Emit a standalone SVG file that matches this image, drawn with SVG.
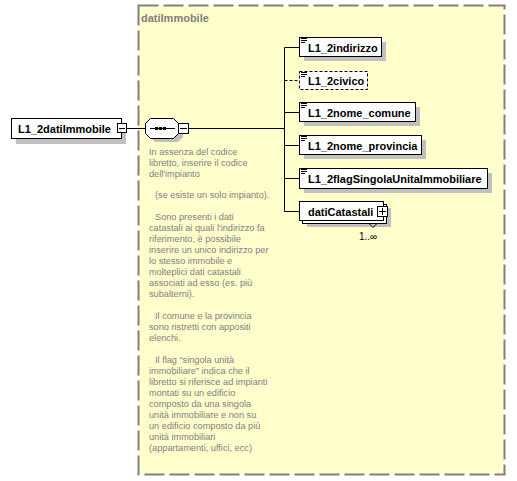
<svg xmlns="http://www.w3.org/2000/svg" width="517" height="481" viewBox="0 0 517 481">
<style>
.lbl{font-family:"Liberation Sans",Arial,sans-serif;font-weight:bold;font-size:11px;fill:#000}
.ann{font-family:"Liberation Sans",Arial,sans-serif;font-size:9.2px;fill:#808080}
.box{fill:#fff;stroke:#000;stroke-width:1}
.shd{fill:#c0c0c0}
.con{stroke:#000;stroke-width:1;fill:none}
.ico{stroke:#000;stroke-width:1}
</style>
<defs>
<g id="icon"><path class="ico" d="M0,0.5H6M0,2.5H6M0,4.5H4"/></g>
</defs>
<rect x="138.5" y="5.5" width="366" height="469" fill="#ffffcc" stroke="#808080" stroke-width="2" stroke-dasharray="20 5"/>
<text x="141" y="22" style="font-family:'Liberation Sans',Arial,sans-serif;font-weight:bold;font-size:11px;fill:#808080">datiImmobile</text>
<g id="connectors">
<path class="con" d="M127,128.5H145M189,128.5H284.5M284.5,47.5V211.5M284.5,47.5H299M284.5,112.5H299M284.5,145.5H299M284.5,178.5H299M284.5,211.5H299"/>
<path class="con" d="M284.5,80.5H299" stroke-dasharray="3 2"/>
</g>
<g id="L1_2datiImmobile">
<rect class="shd" x="16" y="123" width="110" height="21"/>
<rect class="box" x="11.5" y="118.5" width="110" height="20"/>
<text class="lbl" x="18" y="132.5">L1_2datiImmobile</text>
<rect class="box" x="117.5" y="123.5" width="9" height="9"/>
<path class="con" d="M119,128.5H125"/>
</g>
<g id="sequence">
<polygon class="shd" points="155,123 178,123 183,128 183,137 178,142 155,142 150,137 150,128"/>
<polygon class="box" points="150.5,118.5 173.5,118.5 178.5,123.5 178.5,133.5 173.5,138.5 150.5,138.5 145.5,133.5 145.5,123.5"/>
<path class="con" d="M150,128.5H175"/>
<rect x="155" y="127" width="3" height="3" fill="#000"/>
<rect x="159" y="127" width="3" height="3" fill="#000"/>
<rect x="163" y="127" width="3" height="3" fill="#000"/>
<rect class="box" x="178.5" y="123.5" width="10" height="10"/>
<path class="con" d="M180,128.5H187"/>
</g>
<g id="annotation">
<text class="ann" x="149"><tspan x="149" y="155">In assenza del codice</tspan><tspan x="149" y="166">libretto, inserire il codice</tspan><tspan x="149" y="177">dell'impianto</tspan><tspan x="155" y="198">(se esiste un solo impianto).</tspan><tspan x="155" y="220">Sono presenti i dati</tspan><tspan x="149" y="231">catastali ai quali l'indirizzo fa</tspan><tspan x="149" y="242">riferimento, è possibile</tspan><tspan x="149" y="253">inserire un unico indirizzo per</tspan><tspan x="149" y="264">lo stesso immobile e</tspan><tspan x="149" y="275">molteplici dati catastali</tspan><tspan x="149" y="286">associati ad esso (es. più</tspan><tspan x="149" y="297">subalterni).</tspan><tspan x="155" y="319">Il comune e la provincia</tspan><tspan x="149" y="330">sono ristretti con appositi</tspan><tspan x="149" y="341">elenchi.</tspan><tspan x="155" y="363">Il flag “singola unità</tspan><tspan x="149" y="374">immobiliare” indica che il</tspan><tspan x="149" y="385">libretto si riferisce ad impianti</tspan><tspan x="149" y="396">montati su un edificio</tspan><tspan x="149" y="407">composto da una singola</tspan><tspan x="149" y="418">unità immobiliare e non su</tspan><tspan x="149" y="429">un edificio composto da più</tspan><tspan x="149" y="440">unità immobiliari</tspan><tspan x="149" y="451">(appartamenti, uffici, ecc)</tspan></text>
</g>
<g id="L1_2indirizzo">
<rect class="shd" x="304" y="42" width="82" height="19"/>
<rect class="box" x="299.5" y="37.5" width="82" height="19"/>
<use href="#icon" x="301" y="38"/>
<text class="lbl" x="308" y="51.5">L1_2indirizzo</text>
</g>
<g id="L1_2civico">
<rect class="box" x="299.5" y="71.5" width="68" height="18" stroke-dasharray="3 2"/>
<use href="#icon" x="301" y="72"/>
<text class="lbl" x="308" y="85">L1_2civico</text>
</g>
<g id="L1_2nome_comune">
<rect class="shd" x="304" y="107" width="116" height="19"/>
<rect class="box" x="299.5" y="102.5" width="116" height="19"/>
<use href="#icon" x="301" y="103"/>
<text class="lbl" x="308" y="116.5">L1_2nome_comune</text>
</g>
<g id="L1_2nome_provincia">
<rect class="shd" x="304" y="140" width="122" height="19"/>
<rect class="box" x="299.5" y="135.5" width="122" height="19"/>
<use href="#icon" x="301" y="136"/>
<text class="lbl" x="308" y="149.5">L1_2nome_provincia</text>
</g>
<g id="L1_2flagSingolaUnitaImmobiliare">
<rect class="shd" x="304" y="173" width="188" height="20"/>
<rect class="box" x="299.5" y="168.5" width="188" height="20"/>
<use href="#icon" x="301" y="169"/>
<text class="lbl" x="308" y="182.5">L1_2flagSingolaUnitaImmobiliare</text>
</g>
<g id="datiCatastali">
<rect class="shd" x="307" y="208" width="84" height="19"/>
<rect class="box" x="302.5" y="204.5" width="84" height="19"/>
<rect class="box" x="299.5" y="201.5" width="84" height="19"/>
<text class="lbl" x="308" y="215.5">datiCatastali</text>
<rect class="box" x="377.5" y="206.5" width="10" height="10"/>
<path class="con" d="M379,211.5H386M382.5,208V215"/>
<path class="con" d="M369,223.5L373,227.5L377,223.5"/>
<text x="359" y="240" style="font-family:'Liberation Sans',Arial,sans-serif;font-size:10px;fill:#000">1..∞</text>
</g>
</svg>
